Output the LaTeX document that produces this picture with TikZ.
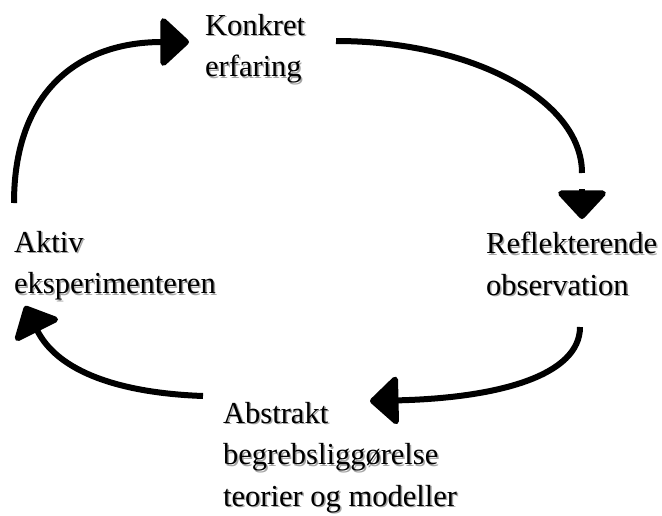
\documentclass[tikz,border=0pt]{standalone}
\usepackage{fontspec}
\setmainfont{Liberation Serif}
\usetikzlibrary{arrows.meta}
% tekst med grå skygge
\newcommand{\skygge}[1]{\rlap{\kern1.5pt\raisebox{-1.5pt}{\color{black!35}#1}}#1}

\begin{document}
\begin{tikzpicture}[
        x=1pt, y=-1pt,
        % Style for fasene
        fase/.style={
            anchor=north west,
            inner sep=0pt,
            align=left,
            font=\fontsize{30.5}{41.5}\selectfont
        },
        % Style for pilene
        pil/.style={
            line width=6pt,
            -{Triangle[length=30pt,width=54pt,round]}
        }
    ]
        \useasboundingbox (0,0) rectangle (662,515);

        % --- 1. FASER ---
        \node[fase] (konkret) at (205,14) {\skygge{Konkret}\\\skygge{erfaring}};
        \node[fase] (refleks) at (486,232) {\skygge{Reflekterende}\\\skygge{observation}};
        \node[fase] (abstrakt) at (223,402) {\skygge{Abstrakt}\\\skygge{begrebsliggørelse}\\\skygge{teorier og modeller}};
        \node[fase] (aktiv) at (14,231) {\skygge{Aktiv}\\\skygge{eksperimenteren}};

        % --- 2. ENDEPUNKTER ---
        \coordinate (p1a) at (14,203);
        \coordinate (p1b) at (189,42);
        \coordinate (p2a) at (336,41);
        \coordinate (p2m) at (582,173);
        \coordinate (p2c) at (582,189);
        \coordinate (p2b) at (582,219);
        \coordinate (p3a) at (580,327);
        \coordinate (p3b) at (370,401);
        \coordinate (p4a) at (203,396);
        \coordinate (p4b) at (25,306);

        % --- 3. PILE ---
        \draw[pil] (p1a) .. controls (14,90) and (80,42) .. (p1b);
        % pilen mod højre har et mellemrum før spidsen
        \draw[pil, -] (p2a) .. controls (472,41) and (582,100) .. (p2m);
        \draw[pil] (p2c) -- (p2b);
        \draw[pil] (p3a) .. controls (580,375) and (500,398) .. (p3b);
        \draw[pil] (p4a) .. controls (120,393) and (58,372) .. (p4b);

    \end{tikzpicture}
\end{document}
